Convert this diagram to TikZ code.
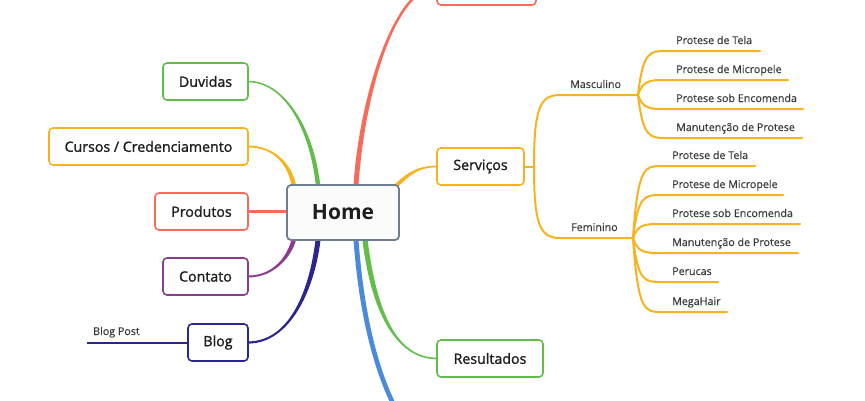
\documentclass[tikz,border=0pt]{standalone}
\usepackage{fontspec}
\setmainfont{Open Sans}
\newfontfamily\boxfont{Open Sans}[FakeBold=1.3]
\newfontfamily\leaffont{Open Sans}[FakeBold=0.4]
\usetikzlibrary{calc}
\definecolor{cred}{HTML}{F86A5A}
\definecolor{cgreen}{HTML}{62BD4B}
\definecolor{corange}{HTML}{F8B21C}
\definecolor{cpurple}{HTML}{8C3B8C}
\definecolor{cnavy}{HTML}{2B2590}
\definecolor{cblue}{HTML}{4A8ADB}
\definecolor{chome}{HTML}{6D7E90}
\definecolor{ctext}{HTML}{1E1E1E}
\definecolor{cleaf}{HTML}{3A3A3A}
% tapered connector: #1 start, #2 ctrl1, #3 ctrl2, #4 end, #5 half width at start, #6 half width at end, #7 colour
\newcommand\taperline[7]{%
  \fill[#7] ($(#1)!#5!90:(#2)$) .. controls ($(#2)!#5!-90:(#1)$) and ($(#3)!#6!90:(#4)$) .. ($(#4)!#6!-90:(#3)$)
    -- ($(#4)!#6!90:(#3)$) .. controls ($(#3)!#6!-90:(#4)$) and ($(#2)!#5!90:(#1)$) .. ($(#1)!#5!-90:(#2)$) -- cycle;}
\begin{document}
\begin{tikzpicture}[x=1pt,y=-1pt,
  box/.style={draw, line width=1.6pt, rounded corners=4pt, fill=white, text=ctext,
    font=\boxfont\fontsize{14.2}{16}\selectfont, inner sep=0pt, minimum height=37pt},
  homebox/.style={box, draw=chome, line width=1.8pt, minimum width=112pt, minimum height=55pt,
    fill=white!97!chome, font=\fontsize{21}{24}\selectfont\bfseries},
  sub/.style={line width=2pt, corange, line cap=round},
  leaf/.style={anchor=base west, inner sep=0pt, text=cleaf, font=\leaffont\fontsize{10.7}{12}\selectfont}
]
\useasboundingbox (0,0) rectangle (865,400);
\clip (0,0) rectangle (865,400);

% anchor coordinates on Home
\coordinate (hn1) at (318,185);
\coordinate (hn2) at (294,186);
\coordinate (hn3) at (356,185);
\coordinate (hn4) at (396,186);
\coordinate (hs1) at (318,240);
\coordinate (hs2) at (294,239);
\coordinate (hs3) at (356,240);
\coordinate (hs4) at (365,240);
\coordinate (bluend) at (402,420);

% main connectors (behind boxes)
\taperline{hn1}{312,130}{285,81.5}{248,81.5}{2.2pt}{0.8pt}{cgreen}
\taperline{hn2}{290,165}{275,146.5}{248,146.5}{2.2pt}{0.9pt}{corange}
\draw[line width=3pt, cred] (287,211.5) -- (248,211.5);
\taperline{hs2}{290,255}{275,276.5}{248,276.5}{2.2pt}{1pt}{cpurple}
\taperline{hs1}{312,290}{290,342.5}{248,342.5}{2.5pt}{1.1pt}{cnavy}
\taperline{hn3}{362,95}{395,-13.5}{437,-13.5}{2.5pt}{1.8pt}{cred}
\taperline{hs3}{362,320}{378,380}{bluend}{2.5pt}{2.3pt}{cblue}
\taperline{hs4}{375,320}{400,358.5}{437,358.5}{2.6pt}{0.8pt}{cgreen}
\taperline{hn4}{410,172}{420,166.5}{437,166.5}{1.9pt}{0.8pt}{corange}

% boxes
\node[homebox] (home) at (343,212.5) {Home};
\node[box, draw=cgreen, minimum width=85pt] (duv) at (205.5,81.5) {Duvidas};
\node[box, draw=corange, minimum width=199pt] (cur) at (148.5,146.5) {Cursos / Credenciamento};
\node[box, draw=cred, minimum width=93pt] (prod) at (201.5,211.5) {Produtos};
\node[box, draw=cpurple, minimum width=85pt] (cont) at (205.5,276.5) {Contato};
\node[box, draw=cnavy, minimum width=60pt] (blog) at (218,342.5) {Blog};
\node[box, draw=corange, minimum width=87pt] (serv) at (480.5,166.5) {Serviços};
\node[box, draw=cgreen, minimum width=106pt] (res) at (490,358.5) {Resultados};
\node[box, draw=cred, minimum width=99pt] (topr) at (486.5,-13.5) {};

% Blog post
\coordinate (bpend) at (87,342.5);
\node[leaf] (bpl) at (93,335) {Blog Post};
\draw[line width=2pt, cnavy] (blog.west) -- (bpend);

% Servicos subtree
\coordinate (sstem) at (534,166.5);
\coordinate (masc) at (638,95);
\coordinate (fem) at (633,238);
\node[leaf] (mascl) at (570,88) {Masculino};
\node[leaf] (feml) at (571,231) {Feminino};
\draw[sub] (serv.east) -- (sstem);
\draw[sub] (sstem) .. controls (534,108) and (540,95) .. (560,95) -- (masc);
\draw[sub] (sstem) .. controls (534,225) and (540,238) .. (560,238) -- (fem);

\foreach \n/\y/\e/\t in {m1/51/760/Protese de Tela, m2/80/788/Protese de Micropele,
  m3/109/803/Protese sob Encomenda, m4/138/802/Manutenção de Protese}{
  \node[leaf] (\n) at (676,\y-7) {\t};
  \coordinate (\n e) at (\e,\y);
  \draw[sub] (masc) .. controls (643,\y) and (650,\y) .. (666,\y) -- (\n e);
}
\foreach \n/\y/\e/\t in {f1/166/755/Protese de Tela, f2/195/783/Protese de Micropele,
  f3/224/800/Protese sob Encomenda, f4/253/798/Manutenção de Protese,
  f5/282/718/Perucas, f6/312/727/MegaHair}{
  \node[leaf] (\n) at (672,\y-7) {\t};
  \coordinate (\n e) at (\e,\y);
  \draw[sub] (fem) .. controls (638,\y) and (645,\y) .. (661,\y) -- (\n e);
}
\end{tikzpicture}
\end{document}
